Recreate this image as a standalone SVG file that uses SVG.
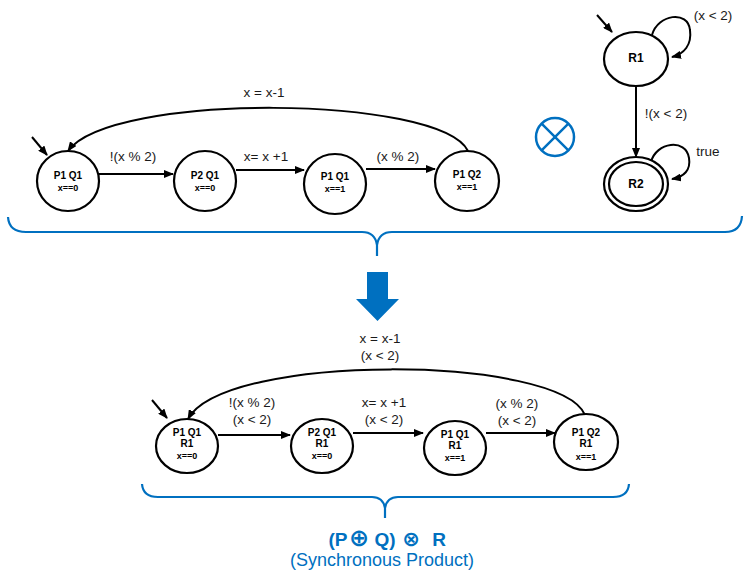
<svg xmlns="http://www.w3.org/2000/svg" width="746" height="572" viewBox="0 0 746 572">
<defs>
<style>
.st{fill:#fff;stroke:#000;stroke-width:2.2}
.ed{fill:none;stroke:#000;stroke-width:2}
.nt{font-family:"Liberation Sans",Arial,sans-serif;font-weight:bold;font-size:10px;text-anchor:middle;fill:#000}
.ns{font-size:9px}
.lb{font-family:"Liberation Sans",Arial,sans-serif;font-size:13.5px;text-anchor:middle;fill:#1a1a1a}
.bl{fill:none;stroke:#0070C0;stroke-width:2.2}
.bt{font-family:"Liberation Sans",Arial,sans-serif;text-anchor:middle;fill:#0070C0}
</style>
<marker id="ah" markerWidth="10" markerHeight="8" refX="9" refY="4" orient="auto" markerUnits="userSpaceOnUse">
<path d="M0,0 L10,4 L0,8 z" fill="#000"/>
</marker>
</defs>
<rect width="746" height="572" fill="#fff"/>

<g id="connectors">
<path class="ed" d="M32,137 L47,155" marker-end="url(#ah)"/>
<path class="ed" d="M99,174 L173,174" marker-end="url(#ah)"/>
<path class="ed" d="M236,170 L304,170" marker-end="url(#ah)"/>
<path class="ed" d="M366,169 L435,169" marker-end="url(#ah)"/>
<path class="ed" d="M468,151 C440,95 110,92 68,151" marker-end="url(#ah)"/>
<path class="ed" d="M597,15 L612,32" marker-end="url(#ah)"/>
<path class="ed" d="M652,35 C658,14 688,10 690,30 C692,45 684,54 672,57" marker-end="url(#ah)"/>
<path class="ed" d="M636,86 L636,157" marker-end="url(#ah)"/>
<path class="ed" d="M651,162 C656,142 686,138 689,158 C691,170 684,177 672,179" marker-end="url(#ah)"/>
<path class="ed" d="M152,400 L167,418" marker-end="url(#ah)"/>
<path class="ed" d="M218,435 L290,435" marker-end="url(#ah)"/>
<path class="ed" d="M353,433 L423,433" marker-end="url(#ah)"/>
<path class="ed" d="M486,433 L555,433" marker-end="url(#ah)"/>
<path class="ed" d="M585,415 C560,355 225,352 188,419" marker-end="url(#ah)"/>
</g>

<g id="labels">
<text class="lb" x="264" y="97">x = x-1</text>
<text class="lb" x="133" y="161">!(x % 2)</text>
<text class="lb" x="266" y="161">x= x +1</text>
<text class="lb" x="398" y="161">(x % 2)</text>
<text class="lb" x="713" y="20">(x &lt; 2)</text>
<text class="lb" x="666" y="118">!(x &lt; 2)</text>
<text class="lb" x="708" y="156">true</text>
<text class="lb" x="380" y="343">x = x-1</text>
<text class="lb" x="380" y="360">(x &lt; 2)</text>
<text class="lb" x="252" y="407">!(x % 2)</text>
<text class="lb" x="252" y="424">(x &lt; 2)</text>
<text class="lb" x="384" y="407">x= x +1</text>
<text class="lb" x="384" y="424">(x &lt; 2)</text>
<text class="lb" x="517" y="408">(x % 2)</text>
<text class="lb" x="517" y="425">(x &lt; 2)</text>
</g>

<g id="node-p1q1-x0">
<ellipse class="st" cx="68" cy="181" rx="31" ry="30"/>
<text class="nt" x="68" y="179">P1 Q1</text>
<text class="nt ns" x="68" y="191">x==0</text>
</g>
<g id="node-p2q1-x0">
<ellipse class="st" cx="205" cy="181" rx="31" ry="30"/>
<text class="nt" x="205" y="179">P2 Q1</text>
<text class="nt ns" x="205" y="191">x==0</text>
</g>
<g id="node-p1q1-x1">
<ellipse class="st" cx="335" cy="184" rx="31" ry="30"/>
<text class="nt" x="335" y="180">P1 Q1</text>
<text class="nt ns" x="335" y="192">x==1</text>
</g>
<g id="node-p1q2-x1">
<ellipse class="st" cx="467" cy="181" rx="32" ry="30"/>
<text class="nt" x="467" y="178">P1 Q2</text>
<text class="nt ns" x="467" y="190">x==1</text>
</g>

<g id="node-r1">
<ellipse class="st" cx="636" cy="59" rx="32" ry="27"/>
<text class="nt" x="636" y="62" style="font-size:12px">R1</text>
</g>
<g id="node-r2">
<ellipse class="st" cx="636" cy="184" rx="32" ry="27"/>
<ellipse class="st" cx="636" cy="184" rx="27" ry="22"/>
<text class="nt" x="636" y="188" style="font-size:12px">R2</text>
</g>

<g id="otimes-symbol">
<circle cx="555" cy="137" r="19" fill="none" stroke="#0070C0" stroke-width="2.5"/>
<path d="M541.6,123.6 L568.4,150.4 M568.4,123.6 L541.6,150.4" stroke="#0070C0" stroke-width="2.5"/>
</g>

<g id="brace-top">
<path class="bl" d="M8,217 Q9,232 26,232 L362,232 Q375,232 377,245 Q379,232 392,232 L725,232 Q741,232 742,216 M377,245 L377,256"/>
</g>
<g id="big-arrow">
<path d="M367,272 L388,272 L388,299 L399,299 L377.5,321 L356,299 L367,299 z" fill="#0070C0"/>
</g>

<g id="node-p1q1r1-x0">
<ellipse class="st" cx="187" cy="446" rx="31" ry="27"/>
<text class="nt" x="187" y="436">P1 Q1</text>
<text class="nt" x="187" y="447">R1</text>
<text class="nt ns" x="187" y="459">x==0</text>
</g>
<g id="node-p2q1r1-x0">
<ellipse class="st" cx="322" cy="446" rx="31" ry="27"/>
<text class="nt" x="322" y="436">P2 Q1</text>
<text class="nt" x="322" y="447">R1</text>
<text class="nt ns" x="322" y="459">x==0</text>
</g>
<g id="node-p1q1r1-x1">
<ellipse class="st" cx="455" cy="448" rx="31" ry="27"/>
<text class="nt" x="455" y="438">P1 Q1</text>
<text class="nt" x="455" y="449">R1</text>
<text class="nt ns" x="455" y="461">x==1</text>
</g>
<g id="node-p1q2r1-x1">
<ellipse class="st" cx="586" cy="442" rx="32" ry="28"/>
<text class="nt" x="586" y="436">P1 Q2</text>
<text class="nt" x="586" y="447">R1</text>
<text class="nt ns" x="586" y="460">x==1</text>
</g>

<g id="brace-bottom">
<path class="bl" d="M142,484 Q143,497 158,497 L372,497 Q383,497 385,508 Q387,497 398,497 L613,497 Q628,497 629,484 M385,508 L385,518"/>
</g>

<g id="caption">
<text class="bt" y="546" style="font-size:19px;font-weight:bold"><tspan x="338">(P</tspan><tspan x="359" style="font-family:'DejaVu Sans',sans-serif;font-size:24px">⊕</tspan><tspan x="385">Q)</tspan><tspan x="411" style="font-family:'DejaVu Sans',sans-serif;font-size:21px">⊗</tspan><tspan x="439">R</tspan></text>
<text class="bt" x="382" y="566" style="font-size:18px">(Synchronous Product)</text>
</g>
</svg>
